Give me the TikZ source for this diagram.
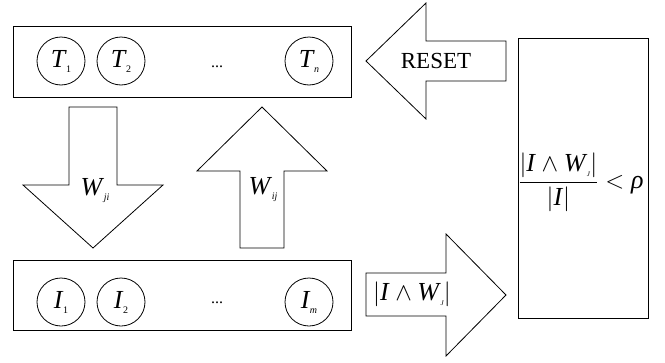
\documentclass[tikz,border=0pt]{standalone}
\usepackage{fontspec}
\setmainfont{Liberation Serif}
\newcommand\vx[2]{\textit{#1}\kern-0.5pt\raisebox{-5pt}{\fontsize{10}{10}\selectfont #2}}
\begin{document}
\begin{tikzpicture}[x=1pt,y=-1pt,line width=0.8pt,
  blk/.style={draw=black,line join=miter},
  frame/.style={draw=black,anchor=north west,inner sep=0pt},
  unit/.style={draw=black,circle,minimum size=48pt,inner sep=0pt,font=\fontsize{26}{26}\selectfont},
  lbl/.style={inner sep=0pt,font=\fontsize{23}{24}\selectfont},
  var/.style={inner sep=0pt,font=\fontsize{26}{26}\selectfont},
  dots/.style={inner sep=0pt,font=\fontsize{16}{16}\selectfont}]
\useasboundingbox (0,0) rectangle (665,362);
% top layer
\node[frame,minimum width=338pt,minimum height=71pt] (topbox) at (13,26) {};
\node[unit] (t1) at (61,61) {\vx{T}{1}};
\node[unit] (t2) at (121,61) {\vx{T}{2}};
\node[dots] (tdots) at (217,67) {...};
\node[unit] (tn) at (309,61) {\vx{T}{\textit{n}}};
% bottom layer
\node[frame,minimum width=338pt,minimum height=70pt] (botbox) at (13,260) {};
\node[unit] (i1) at (61,302) {\vx{I}{1}};
\node[unit] (i2) at (121,302) {\vx{I}{2}};
\node[dots] (idots) at (217,303) {...};
\node[unit] (im) at (309,302) {\vx{I}{\textit{m}}};
% right box
\node[frame,minimum width=130pt,minimum height=280pt] (testbox) at (518,38) {};
% block arrows
\draw[blk] (69,107) -- (117,107) -- (117,185) -- (163,185) -- (93,248) -- (23,185) -- (69,185) -- cycle;
\draw[blk] (262,107) -- (327,171) -- (284,171) -- (284,248) -- (240,248) -- (240,171) -- (197,171) -- cycle;
\draw[blk] (366,61) -- (426,3) -- (426,41) -- (506,41) -- (506,81) -- (426,81) -- (426,119) -- cycle;
\draw[blk] (366,273) -- (446,273) -- (446,234) -- (506,295) -- (446,356) -- (446,316) -- (366,316) -- cycle;
% labels
\node[lbl] (reset) at (436,61) {RESET};
\node[var] (wji) at (95,191) {\vx{W}{\textit{ji}}};
\node[var] (wij) at (263,190) {\vx{W}{\textit{ij}}};
\node[var] (match) at (412,294) {$\left|\mbox{\textit{I}}\wedge\mbox{\vx{W}{\textit{\fontsize{7}{7}\selectfont J}}}\right|$};
\node[var] (rule) at (581,182) {$\displaystyle\frac{\left|\mbox{\textit{I}}\wedge\mbox{\vx{W}{\textit{\fontsize{7}{7}\selectfont J}}}\right|}{\left|\mbox{\textit{I}}\right|}<\mbox{\textit{ρ}}$};
\end{tikzpicture}
\end{document}
